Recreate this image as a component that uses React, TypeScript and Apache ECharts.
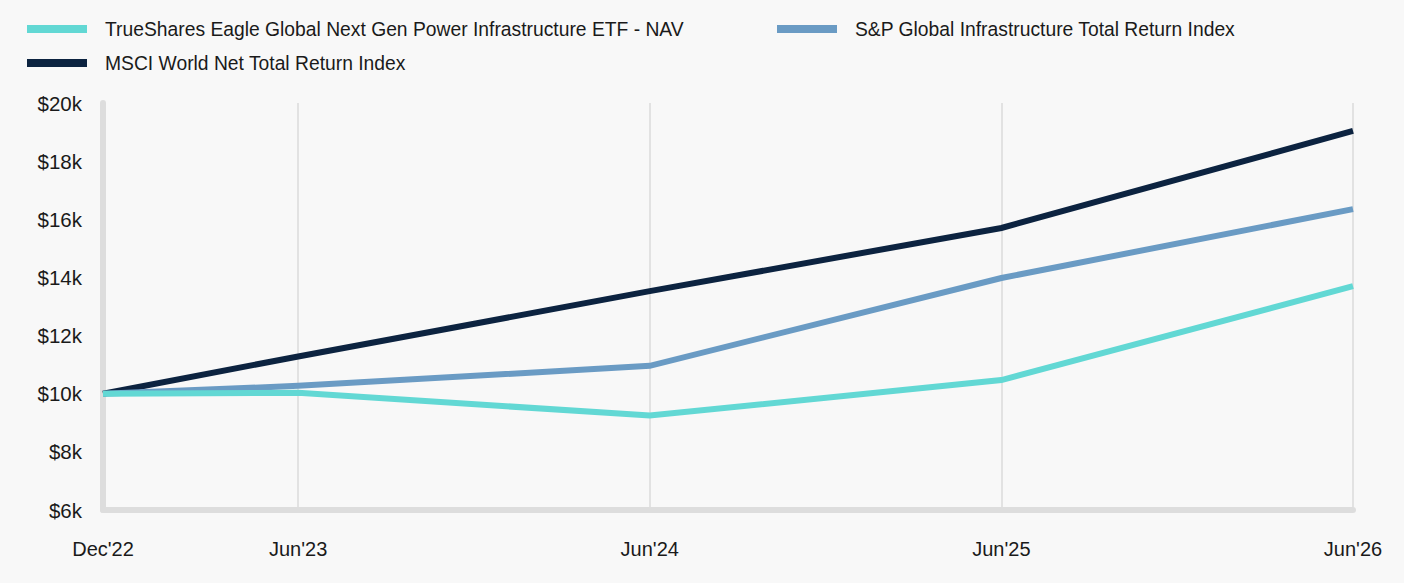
import React, { useEffect, useRef } from "react";
import * as echarts from "echarts";

const xValues = [2022.945, 2023.5, 2024.5, 2025.5, 2026.5];
const tickLabels = ["Dec'22", "Jun'23", "Jun'24", "Jun'25", "Jun'26"];

const seriesNames = [
  "TrueShares Eagle Global Next Gen Power Infrastructure ETF - NAV",
  "S&P Global Infrastructure Total Return Index",
  "MSCI World Net Total Return Index",
];
const trueSharesValues = [10000, 10030, 9250, 10470, 13700];
const spGlobalValues = [10000, 10270, 10960, 13980, 16350];
const msciWorldValues = [10000, 11280, 13530, 15700, 19040];

const yTicks = [6000, 8000, 10000, 12000, 14000, 16000, 18000, 20000];

const colors = ["#62d8d4", "#6a9bc4", "#0c2340"];
const FONT = "Liberation Sans";

export default function App() {
  const ref = useRef<HTMLDivElement>(null);
  useEffect(() => {
    document.body.style.margin = "0";
    const chart = echarts.init(ref.current!, null, { renderer: "svg" });
    const valuesList = [trueSharesValues, spGlobalValues, msciWorldValues];
    const series = seriesNames.map((name, i) => ({
      name,
      type: "line",
      color: colors[i],
      symbol: "none",
      lineStyle: { width: 6, color: colors[i], cap: "butt", join: "miter" },
      data: xValues.map((x, j) => [x, valuesList[i][j]]),
    }));
    const legendText = {
      fontSize: 19.3,
      color: "#1a1a1a",
      fontFamily: FONT,
      lineHeight: 20,
      padding: [0, 0, 0, 13],
    };
    chart.setOption({
      animation: false,
      backgroundColor: "#f8f8f8",
      textStyle: { fontFamily: FONT },
      legend: [
        {
          data: [seriesNames[0], seriesNames[2]],
          orient: "vertical",
          left: 22,
          top: 14,
          icon: "rect",
          itemWidth: 60,
          itemHeight: 8,
          itemGap: 14,
          textStyle: legendText,
        },
        {
          data: [seriesNames[1]],
          orient: "vertical",
          left: 772,
          top: 14,
          icon: "rect",
          itemWidth: 60,
          itemHeight: 8,
          textStyle: legendText,
        },
      ],
      grid: { left: 103, right: 51, top: 103, bottom: 73, containLabel: false, outerBoundsMode: "none" },
      xAxis: {
        type: "value",
        min: xValues[0],
        max: xValues[xValues.length - 1],
        axisLine: { show: true, onZero: false, lineStyle: { color: "#dddddd", width: 6 } },
        axisTick: { show: false, customValues: xValues },
        axisLabel: {
          customValues: xValues,
          formatter: (v: number) => {
            const idx = xValues.findIndex((x) => Math.abs(x - v) < 1e-6);
            return idx >= 0 ? tickLabels[idx] : "";
          },
          fontSize: 20,
          color: "#1a1a1a",
          fontFamily: FONT,
          margin: 29,
          showMinLabel: true,
          showMaxLabel: true,
        },
        splitLine: { show: true, lineStyle: { color: "#e2e2e2", width: 2 } },
      },
      yAxis: {
        type: "value",
        min: yTicks[0],
        max: yTicks[yTicks.length - 1],
        interval: 2000,
        axisLine: { show: true, lineStyle: { color: "#dddddd", width: 6 } },
        axisTick: { show: false },
        splitLine: { show: false },
        axisLabel: {
          formatter: (v: number) => "$" + v / 1000 + "k",
          fontSize: 20.5,
          color: "#1a1a1a",
          fontFamily: FONT,
          margin: 21,
        },
      },
      series: [series[2], series[1], series[0]].map((s, k) => ({ ...s, z: k + 2 })),
    });
    return () => chart.dispose();
  }, []);
  return <div ref={ref} style={{ width: 1404, height: 583 }} />;
}
